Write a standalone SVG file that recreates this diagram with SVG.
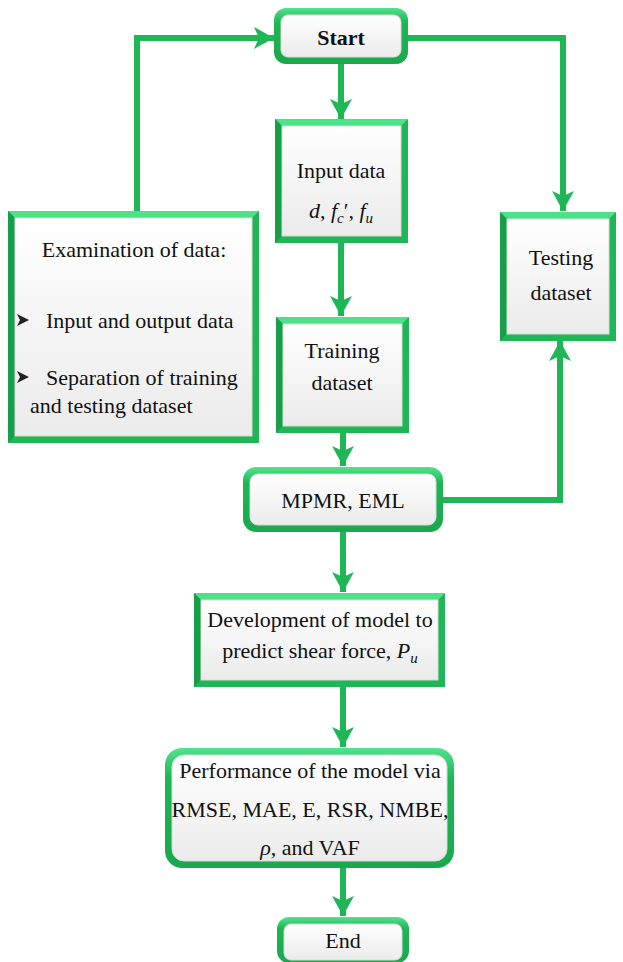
<svg xmlns="http://www.w3.org/2000/svg" width="623" height="962" viewBox="0 0 623 962">
  <defs>
    <linearGradient id="boxFill" x1="0" y1="0" x2="0" y2="1">
      <stop offset="0" stop-color="#ffffff"/>
      <stop offset="1" stop-color="#ebebeb"/>
    </linearGradient>
    <linearGradient id="rimFill" x1="0" y1="0" x2="0" y2="1">
      <stop offset="0" stop-color="#52e38e"/>
      <stop offset="0.25" stop-color="#1fb655"/>
      <stop offset="1" stop-color="#1aa84d"/>
    </linearGradient>
    <marker id="arrow" markerUnits="userSpaceOnUse" markerWidth="24" markerHeight="22" viewBox="0 0 24 22" refX="20" refY="11" orient="auto">
      <path d="M0,0 L20,11 L0,22 L5,11 Z" fill="#1fb655"/>
    </marker>
    <style>
      .rim { fill: url(#rimFill); }
      .frame { fill: #1fb655; }
      .top { fill: #4fe08a; }
      .side { fill: #15a048; }
      .inner { fill: url(#boxFill); stroke: #d9d9d9; stroke-width: 1; }
      .link { fill: none; stroke: #1fb655; stroke-width: 6; marker-end: url(#arrow); }
      text { font-family: "Liberation Serif", "Times New Roman", serif; font-size: 22px; fill: #111; text-anchor: middle; }
      .bold { font-weight: bold; }
      .left { text-anchor: start; }
      .math { font-style: italic; }
    </style>
  </defs>

  <!-- connectors -->
  <g id="connectors">
    <path class="link" d="M137,212 V38 H274"/>
    <path class="link" d="M407,38 H563 V211"/>
    <path class="link" d="M341,63 V119"/>
    <path class="link" d="M341,242 V316"/>
    <path class="link" d="M343,432 V466"/>
    <path class="link" d="M442,500 H560 V341"/>
    <path class="link" d="M343,532 V592"/>
    <path class="link" d="M343,686 V747"/>
    <path class="link" d="M343,868 V916"/>
  </g>

  <!-- rounded terminals: green rim with a lighter top edge -->
  <g id="start">
    <rect class="rim" x="274" y="8" width="134" height="56" rx="12"/>
    <rect class="inner" x="281" y="15" width="120" height="42" rx="7"/>
    <text class="bold" x="341" y="45">Start</text>
  </g>

  <!-- square process boxes: bevelled green frame -->
  <g id="input-data">
    <rect class="frame" x="275" y="119" width="133" height="124"/>
    <polygon class="top" points="275,119 408,119 401,126 282,126"/>
    <polygon class="side" points="275,119 282,126 282,236 275,243"/>
    <rect class="inner" x="282" y="126" width="119" height="110"/>
    <text x="341" y="178">Input data</text>
    <text x="341" y="218"><tspan class="math">d</tspan>, <tspan class="math">f</tspan><tspan class="math" font-size="15" dy="5">c</tspan><tspan dy="-5">′</tspan>, <tspan class="math">f</tspan><tspan class="math" font-size="15" dy="5">u</tspan></text>
  </g>

  <g id="examination">
    <rect class="frame" x="8" y="211" width="251" height="232"/>
    <polygon class="top" points="8,211 259,211 252,218 15,218"/>
    <polygon class="side" points="8,211 15,218 15,436 8,443"/>
    <rect class="inner" x="15" y="218" width="237" height="218"/>
    <text x="134" y="257">Examination of data:</text>
    <path d="M17,314 L29,320 L17,326 L20,320 Z" fill="#222"/>
    <text class="left" x="46" y="328">Input and output data</text>
    <path d="M17,371 L29,377 L17,383 L20,377 Z" fill="#222"/>
    <text class="left" x="46" y="385">Separation of training</text>
    <text class="left" x="30" y="413">and testing dataset</text>
  </g>

  <g id="testing-dataset">
    <rect class="frame" x="500" y="212" width="116" height="129"/>
    <polygon class="top" points="500,212 616,212 609,219 507,219"/>
    <polygon class="side" points="500,212 507,219 507,334 500,341"/>
    <rect class="inner" x="507" y="219" width="102" height="115"/>
    <text x="561" y="265">Testing</text>
    <text x="561" y="300">dataset</text>
  </g>

  <g id="training-dataset">
    <rect class="frame" x="276" y="317" width="133" height="116"/>
    <polygon class="top" points="276,317 409,317 402,324 283,324"/>
    <polygon class="side" points="276,317 283,324 283,426 276,433"/>
    <rect class="inner" x="283" y="324" width="119" height="102"/>
    <text x="342" y="358">Training</text>
    <text x="342" y="390">dataset</text>
  </g>

  <g id="mpmr-eml">
    <rect class="rim" x="243" y="467" width="200" height="65" rx="13"/>
    <rect class="inner" x="250" y="474" width="186" height="51" rx="8"/>
    <text x="343" y="508">MPMR, EML</text>
  </g>

  <g id="development">
    <rect class="frame" x="194" y="593" width="251" height="94"/>
    <polygon class="top" points="194,593 445,593 438,600 201,600"/>
    <polygon class="side" points="194,593 201,600 201,680 194,687"/>
    <rect class="inner" x="201" y="600" width="237" height="80"/>
    <text x="320" y="627">Development of model to</text>
    <text x="320" y="658">predict shear force, <tspan class="math">P</tspan><tspan class="math" font-size="15" dy="5">u</tspan></text>
  </g>

  <g id="performance">
    <rect class="rim" x="165" y="748" width="289" height="120" rx="17"/>
    <rect class="inner" x="172" y="755" width="275" height="106" rx="12"/>
    <text x="310" y="778">Performance of the model via</text>
    <text x="310" y="817">RMSE, MAE, E, RSR, NMBE,</text>
    <text x="310" y="855"><tspan class="math">ρ</tspan>, and VAF</text>
  </g>

  <g id="end">
    <rect class="rim" x="277" y="917" width="132" height="46" rx="12"/>
    <rect class="inner" x="284" y="924" width="118" height="36" rx="7"/>
    <text x="343" y="948">End</text>
  </g>
</svg>
